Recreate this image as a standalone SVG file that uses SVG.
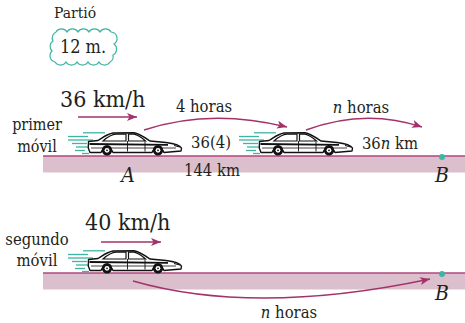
<svg xmlns="http://www.w3.org/2000/svg" width="465" height="323" viewBox="0 0 465 323">
  <style>
    .t { font-family: "DejaVu Serif Condensed", "DejaVu Serif", serif; fill: #231f20; }
    .it { font-style: italic; }
    .road { fill: #dcbfcc; }
    .edge { stroke: #b1477d; stroke-width: 1.3; fill: none; }
    .arr { stroke: #a3326b; stroke-width: 1.4; fill: none; marker-end: url(#head); }
    .dot { fill: #3db5a3; }
    .speed line { stroke: #3db5a3; stroke-width: 1.3; }
  </style>
  <defs>
    <marker id="head" markerUnits="userSpaceOnUse" markerWidth="11" markerHeight="8" refX="10" refY="4" orient="auto">
      <path d="M0,0 L10,4 L0,8 L2.5,4 Z" fill="#a3326b"/>
    </marker>
    <!-- sedan facing right, origin at rear/roof corner -->
    <g id="car">
      <g class="speed">
        <line x1="-5" y1="0.8" x2="17" y2="0.8"/>
        <line x1="-20" y1="4.5" x2="0" y2="4.5"/>
        <line x1="-20" y1="8" x2="5" y2="8"/>
        <line x1="-16" y1="11.5" x2="-1" y2="11.5"/>
        <line x1="-12" y1="15" x2="2" y2="15"/>
        <line x1="-13" y1="18.5" x2="-3" y2="18.5"/>
        <line x1="-6" y1="21.5" x2="1" y2="21.5"/>
      </g>
      <path d="M0.5,9.5 L10,8.5 C15,5.5 19,2 25,1 L46,0.8 C51,1.5 56,5 62,9 L78,10.5 C86,11.5 92,13.5 93.5,16 L93,19 L76,20.5 A6.5,6.5 0 0 0 64,20.5 L25,20.5 A6.5,6.5 0 0 0 13,20.5 L2,20.5 L0.3,16 Z" fill="#fff" stroke="#111" stroke-width="1.4" stroke-linejoin="round"/>
      <path d="M15,9 C19,5.5 23,2.5 28,2.2 L38,2.2 L38,9 Z" fill="#fff" stroke="#111" stroke-width="1.2"/>
      <path d="M40.5,2.2 L46,2.2 C50,3 54,6 57.5,9 L40.5,9 Z" fill="#fff" stroke="#111" stroke-width="1.2"/>
      <path d="M1.5,12 L80,12.8" stroke="#111" stroke-width="1.8"/>
      <path d="M3,16 L88,16" stroke="#111" stroke-width="0.8"/>
      <path d="M39.5,9 L39.5,19.5 M57,9.5 L57,19.5" stroke="#111" stroke-width="0.9"/>
      <path d="M86,13.5 L92,15" stroke="#111" stroke-width="1.2"/>
      <circle cx="19" cy="18.3" r="5.2" fill="#111"/>
      <circle cx="19" cy="18.3" r="2.4" fill="#fff"/>
      <circle cx="19" cy="18.3" r="0.9" fill="#111"/>
      <circle cx="70" cy="18.3" r="5.2" fill="#111"/>
      <circle cx="70" cy="18.3" r="2.4" fill="#fff"/>
      <circle cx="70" cy="18.3" r="0.9" fill="#111"/>
    </g>
  </defs>

  <!-- departure note -->
  <g id="note">
    <text class="t" x="54" y="18" font-size="15.5">Partió</text>
    <path d="M56,32 A6.5,6.5 0 0 1 67,32 A6.5,6.5 0 0 1 78,32 A6.5,6.5 0 0 1 89,32 A6.5,6.5 0 0 1 100,32 A6.5,6.5 0 0 1 111,32 A6.5,6.5 0 0 1 114,44 A6.5,6.5 0 0 1 113,55 A6.5,6.5 0 0 1 110,62 A6.5,6.5 0 0 1 99,62 A6.5,6.5 0 0 1 88,62 A6.5,6.5 0 0 1 77,62 A6.5,6.5 0 0 1 66,62 A6.5,6.5 0 0 1 55,62 A6.5,6.5 0 0 1 52,51 A6.5,6.5 0 0 1 53,41 A6.5,6.5 0 0 1 56,32 Z" fill="#fff" stroke="#3db5a3" stroke-width="1.2"/>
    <text class="t" x="83" y="53" font-size="18" text-anchor="middle">12 m.</text>
  </g>

  <!-- roads -->
  <g id="road1">
    <rect class="road" x="43" y="156" width="422" height="16.5"/>
    <line class="edge" x1="43" y1="156" x2="465" y2="156"/>
  </g>
  <g id="road2">
    <rect class="road" x="43" y="273" width="422" height="16.5"/>
    <line class="edge" x1="43" y1="273" x2="465" y2="273"/>
  </g>

  <!-- first car -->
  <g id="car1">
    <text class="t" x="37" y="130" font-size="16" text-anchor="middle">primer</text>
    <text class="t" x="37" y="152" font-size="16" text-anchor="middle">móvil</text>
    <text class="t" x="60" y="107" font-size="23">36 km/h</text>
    <use href="#car" x="88" y="132"/>
    <text class="t it" x="128" y="182" font-size="21" text-anchor="middle">A</text>
  </g>

  <!-- first car after 4 hours -->
  <g id="car1b">
    <use href="#car" x="259" y="132"/>
    <text class="t" x="211" y="148" font-size="16.5" text-anchor="middle">36(4)</text>
    <text class="t" x="212" y="176" font-size="16.5" text-anchor="middle">144 km</text>
  </g>

  <!-- meeting point on road 1 -->
  <g id="B1">
    <circle class="dot" cx="442" cy="157" r="3"/>
    <text class="t it" x="442" y="182" font-size="21" text-anchor="middle">B</text>
    <text class="t" x="390" y="149" font-size="16.5" text-anchor="middle">36<tspan font-style="italic">n</tspan> km</text>
  </g>

  <!-- second car -->
  <g id="car2">
    <text class="t" x="37" y="245" font-size="16.5" text-anchor="middle">segundo</text>
    <text class="t" x="37" y="266" font-size="16.5" text-anchor="middle">móvil</text>
    <text class="t" x="85" y="230" font-size="23">40 km/h</text>
    <use href="#car" x="88" y="250"/>
  </g>

  <!-- meeting point on road 2 -->
  <g id="B2">
    <circle class="dot" cx="442" cy="274" r="3"/>
    <text class="t it" x="442" y="300" font-size="21" text-anchor="middle">B</text>
  </g>

  <!-- connectors -->
  <g id="connectors">
    <path class="arr" d="M78,117 L137,117"/>
    <path class="arr" d="M101,242 L161,242"/>
    <path class="arr" d="M144,130 Q210,108 287,127"/>
    <text class="t" x="204" y="112" font-size="16.5" text-anchor="middle">4 horas</text>
    <path class="arr" d="M306,130 Q365,108 422,127"/>
    <text class="t" x="361" y="113" font-size="16.5" text-anchor="middle"><tspan font-style="italic">n</tspan> horas</text>
    <path class="arr" d="M133,281 Q255,316 430,279"/>
    <text class="t" x="289" y="318" font-size="16.5" text-anchor="middle"><tspan font-style="italic">n</tspan> horas</text>
  </g>
</svg>
